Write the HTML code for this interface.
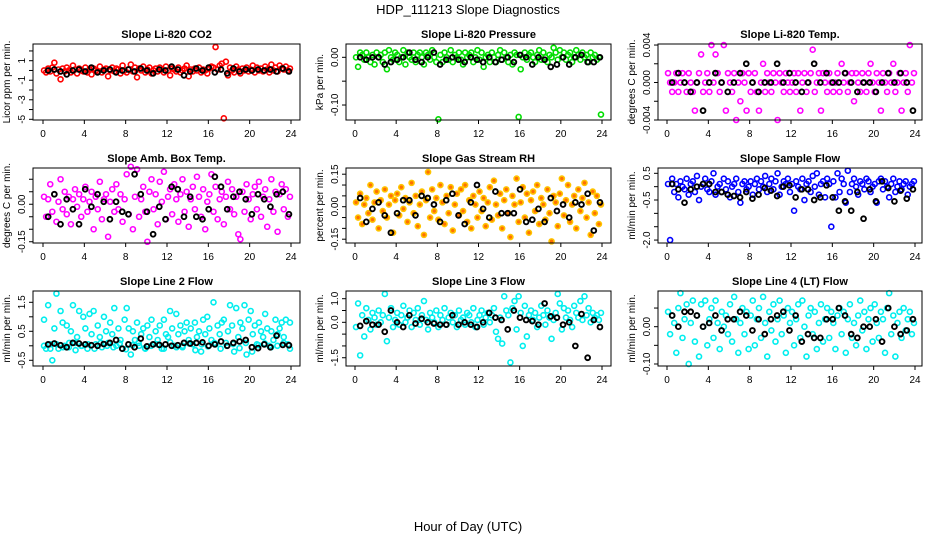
<!DOCTYPE html>
<html><head><meta charset="utf-8">
<style>
html,body{margin:0;padding:0;background:#fff;}
svg{display:block;font-family:"Liberation Sans",sans-serif;}
</style></head>
<body>
<svg id="chart" width="936" height="540" viewBox="0 0 936 540" xmlns="http://www.w3.org/2000/svg">
<rect x="0" y="0" width="936" height="540" fill="#fff"/>
<text x="468" y="14" font-size="13" text-anchor="middle">HDP_111213  Slope Diagnostics</text>
<text x="468" y="531" font-size="13" text-anchor="middle">Hour of Day (UTC)</text>
<g id="panels"></g>
</svg>
<script>
const co2Vals=[0,-0.2,0.2,-0.1,0.3,0.8,-0.3,0.1,-0.9,0.2,-0.1,0.3,0,-0.2,0.5,0.1,-0.3,0.2,0,-0.1,0.3,-0.2,0.1,-0.4,0.2,0,-0.1,0.4,-0.2,0.1,0.2,-0.6,0,0.3,-0.1,0.2,0.1,-0.3,0.5,0,-0.2,0.1,0.6,-0.1,0.3,-0.7,0.2,0,0.4,-0.2,0.1,0.3,-0.3,0,0.2,-0.1,0.3,0.1,-0.2,0.4,0,-0.5,0.2,0.1,-0.1,0.3,-0.2,0,0.2,0.5,-0.6,0.1,-0.1,0.2,0,0.3,-0.2,0.1,0,-0.3,0.2,0.4,0.3,2.4,0.1,0.5,0.7,-4.9,0.9,-0.5,0.3,0,-0.2,0.4,0.1,-0.3,0.2,0,0.3,-0.1,0.1,0.5,-0.2,0.3,0,0.2,-0.1,0.4,0.1,-0.2,0.6,0,0.3,-0.1,0.5,0.2,0.1,0.4,0,0.2];
const co2Black=[0,0.1,-0.1,-0.4,0,0.1,-0.1,0.3,-0.2,0,0.1,-0.2,0,0.1,-0.1,0.2,0,-0.3,0.1,0,0.4,0.1,-0.5,-0.1,0.2,0,0.3,-0.2,0.1,-0.3,0.2,-0.1,0.1,0,0.1,0,0.1,-0.1,0.2,-0.1];
const presVals=[0,-.02,.01,.005,-.005,.01,0,-.01,.005,-.015,.01,0,.005,-.01,.01,-.025,.015,0,-.005,.01,.005,-.01,0,.015,-.015,.01,0,-.005,.01,-.01,.005,.01,0,-.015,.01,.005,-.005,.015,0,-.01,-.13,.005,-.01,.01,0,-.005,.015,-.01,.005,0,.01,-.005,-.015,.01,0,.005,.01,-.01,0,.015,-.005,.01,-.02,0,.005,-.01,.01,0,-.01,.005,.015,-.005,.01,0,-.01,.005,-.015,.01,.005,-.125,-.025,0,.01,-.005,.005,.01,0,-.01,.005,.015,-.005,.01,0,-.01,.005,0,.02,.01,-.005,.015,0,.01,-.005,.005,.01,-.01,0,.015,.005,-.005,.01,0,.005,-.01,.01,0,.005,-.005,0,-.12];
const presBlack=[0,-.005,0,0,-.015,-.01,-.005,0,.01,-.005,-.01,0,.01,-.015,-.005,0,-.005,-.01,0,-.005,-.01,0,-.01,-.005,0,-.01,.005,0,-.015,0,-.005,-.02,-.015,0,-.015,0,.005,-.01,-.01,0];
const tempVals=[.001,0,-.001,0,.001,-.001,0,.001,0,-.001,.001,0,-.001,-.003,0,.001,.003,-.001,0,.001,-.001,.004,0,.003,.001,-.001,0,.004,-.003,.001,0,-.001,.001,-.004,0,-.002,.001,0,-.003,.001,-.001,0,.001,-.001,-.003,0,.002,-.001,.001,0,-.001,.001,0,-.004,.001,0,-.001,.001,0,-.001,0,.001,-.001,.001,-.003,0,.001,-.001,0,.001,.0035,-.001,0,.001,-.003,.001,0,-.001,.001,0,-.001,0,.001,-.001,.002,0,.001,-.001,0,.001,-.002,.001,0,-.001,.001,0,-.001,.001,.002,0,-.001,.001,0,-.003,.001,0,-.001,.001,0,.002,-.001,0,.001,-.003,0,.001,-.001,.004,0,.001];
const tempBlack=[0,.001,0,-.001,0,-.003,0,.001,0,-.001,0,.001,.002,0,-.001,0,0,.002,0,.001,0,-.001,0,.002,0,.001,0,0,.001,0,-.001,0,0,-.001,0,.001,0,.001,0,-.003];
const ambVals=[.03,-.05,.02,.08,-.03,.04,-.07,.01,.1,-.02,.05,-.04,.03,-.08,.02,.06,-.01,.04,-.05,.02,.07,-.03,.01,.05,-.1,.03,-.02,.09,-.06,.02,.04,-.13,.01,.06,-.03,.08,-.02,.04,-.07,.02,.12,-.04,.15,-.1,.03,.14,-.05,.02,.07,-.03,-.15,.05,.1,-.02,.04,-.08,.09,.01,.13,-.06,.03,.06,-.04,.08,.02,-.07,.04,.1,-.03,.05,-.09,.02,.07,-.02,.11,.03,-.05,.06,-.1,.01,.04,.12,-.03,.07,-.06,.02,.05,-.08,.03,.09,-.02,.06,-.04,.03,-.12,-.14,.05,-.03,.08,.02,-.06,.04,.07,-.02,.09,-.05,.03,.06,-.09,.02,.1,-.03,.05,-.11,.04,.08,-.02,.06,-.05,.03];
const ambBlack=[-.05,.04,-.08,.02,-.02,-.08,.06,-.01,.04,.01,-.06,.01,-.03,-.04,.12,.04,-.03,-.12,-.01,-.06,.07,.06,-.05,.03,-.05,-.06,-.02,.11,.07,-.02,.03,.05,.02,-.04,.04,.02,-.01,.04,.05,-.04];
const rhVals=[.02,-.05,.06,-.08,.01,.04,-.03,.1,-.06,.02,.07,-.1,.03,-.02,.08,-.05,.01,.05,-.12,.03,.06,-.04,.09,-.01,.04,-.07,.02,.11,-.03,.05,-.09,.01,.07,-.13,.03,.16,-.05,.08,-.02,.04,-.06,.1,.02,-.08,.05,-.03,.09,-.11,.01,.06,-.04,.08,-.02,.1,-.07,.03,-.1,.05,.01,-.05,.07,-.02,.04,-.09,.02,.09,-.06,.12,.01,-.04,.06,-.1,.03,.08,-.03,-.14,.05,.01,.13,-.07,.02,.09,-.05,.06,-.12,.03,.07,-.02,.1,-.08,.04,.01,-.06,.08,-.03,-.16,.05,.02,-.09,.06,.13,-.04,.03,.1,-.07,.01,.05,-.1,.08,-.02,.04,.11,-.05,.02,-.13,.07,-.03,.05,-.08,.01];
const rhBlack=[.04,-.07,-.01,.02,-.04,-.12,-.03,.03,.03,-.04,.05,.04,.01,-.07,.03,.06,-.04,-.08,.02,.1,-.01,-.05,.07,-.03,-.03,-.03,.08,-.07,-.06,-.01,-.07,.04,-.02,.01,-.05,.02,.01,.06,-.11,.02];
const flowVals=[.1,-2.0,.3,-.2,.1,-.4,.2,0,-.1,.3,-.3,.1,.2,-.2,.4,-.5,0,.1,.3,-.1,-.2,.2,.5,-.3,0,.1,-.2,.3,-.1,.2,-.4,0,.1,.3,-.2,-.6,.1,.2,-.1,0,.2,-.3,.1,.3,-.1,.2,0,.4,-.2,.1,.3,-.1,.2,.5,-.3,0,.2,.1,.3,-.2,.1,-.9,.2,0,-.1,.3,-.5,.1,.2,-.2,.4,0,.5,-.3,.1,.2,-.4,.3,.1,-1.5,.2,-.4,.5,-.2,.3,.1,-.6,.6,-.2,.1,.3,0,-.3,.2,.1,-.1,.3,.2,-.2,0,.1,-.6,.2,.3,-.1,.2,0,-.4,.1,.3,-.2,0,.2,-.1,.1,.2,-.3,0,.1,.2];
const flowBlack=[.1,-.1,-.6,-.1,0,.1,.1,-.2,-.2,-.3,-.35,-.4,-.2,-.45,-.3,-.05,-.15,-.35,0,.05,-.4,-.1,-.1,-.5,-.4,.05,-.4,-.9,-.55,-.9,-.2,-1.2,-.1,-.55,.2,-.05,-.55,-.15,-.45,-.1];
const l2Vals=[0.9,-0.1,1.4,0.05,-0.5,0.6,1.8,-0.1,1.2,0.8,0,0.7,-0.05,0.5,1.4,0.1,0.3,1.2,0,1.0,0.6,-0.1,1.1,0.4,1.2,0.05,0.7,0.3,-0.05,1.0,0.5,0.1,0.8,0.4,1.3,0,0.6,0.2,-0.1,0.9,1.3,0.6,-0.3,0.5,0.2,0.8,0,0.4,0.6,-0.1,0.7,0.3,0.9,0.05,0.5,0.2,0.7,-0.1,0.9,0.4,0.3,1.2,0.6,0,1.1,0.4,0.7,-0.05,0.5,0.8,0.2,0.6,0.05,0.8,0.3,0.5,-0.2,0.9,0.4,1.0,0.6,0.2,1.5,0.05,0.7,0.4,0.8,0.9,0.1,0.5,1.4,0.7,-0.2,1.3,0.3,0.8,0.6,1.4,-0.3,0.9,1.2,0.4,0.7,0.05,0.8,0.5,0.3,1.1,0.6,0,0.5,0.2,0.9,0.4,0.6,0.8,0.3,0.9,0.05,0.8];
const l2Band=[0,-0.1,0.05,-0.05,0.1,-0.15,0,0.05,-0.1,0.1,0,-0.05,0.08,-0.12,0.02,0.1,-0.08,0,0.05,-0.1,0.12,-0.05,0,0.08,-0.15,0.05,-0.02,0.1,-0.1,0,0.06,-0.08,0.1,-0.2,0.02,0.08,-0.05,0,0.1,-0.1];
const l2Black=[0.05,0.08,0.02,-0.05,0.1,0.08,0.05,0.02,0,0.06,0.1,0.2,-0.1,0.05,-0.05,0.25,-0.02,0.05,0.03,0.05,0,0.02,0.1,0.08,0.1,0.12,0,0.05,0.15,0,0.1,0.15,0.2,-0.05,-0.08,0.05,-0.05,0.35,0.03,0.02];
const l3Vals=[-0.2,0.8,-1.4,0.3,-0.6,0.6,0.1,-0.3,0.4,0.2,-0.1,0.5,0,0.3,1.2,-0.8,0.2,0.6,-0.2,0.1,0.4,-0.1,0.3,0.7,0,0.2,0.5,-0.2,0.4,0.1,0.6,-0.1,0.3,0.9,0.1,-0.3,0.4,0.2,0,0.5,-0.2,0.3,0.1,0.6,-0.1,0.2,0.4,0,0.3,-0.2,0.5,0.1,0.2,-0.1,0.4,0.3,0,0.6,-0.2,0.1,0.3,0.5,-0.1,0.2,0.4,0,0.3,0.6,-0.4,-0.7,0.2,-0.9,1.1,0.5,0.3,-1.7,0.6,0.9,-0.3,1.1,0.4,-1.0,0.7,-0.6,0.3,0.5,0.1,0.4,-0.2,0.2,0.7,0.3,-0.1,0.5,0.2,-0.7,0.1,0.4,1.2,0.8,-0.3,0.6,0.2,0.5,0.1,-0.2,0.7,0.4,0.2,0.9,0.1,1.1,0.3,0.6,0,0.4,0.2,0.3,0.1,0.4];
const l3Black=[-0.15,0.05,-0.1,-0.1,-0.4,0.5,0,-0.2,0.3,-0.05,0.15,0,-0.05,-0.1,-0.1,0.3,-0.1,0,-0.1,-0.2,0,0.4,0.2,0.1,-0.3,0.5,0.2,0.1,0.05,-0.1,0.8,0.25,0.2,-0.1,0,-1.0,0.35,-1.5,0.1,-0.2];
const l4Vals=[0.04,-0.02,0.03,0.01,-0.07,0.05,0.09,-0.03,0.02,0.06,-0.1,0.01,0.07,-0.04,0.03,-0.08,0.06,0,0.07,-0.05,0.02,0.05,-0.03,0.07,0.01,-0.06,0.04,0,0.03,-0.02,0.06,-0.04,0.08,0.02,-0.07,0.01,0.05,-0.02,0.04,-0.06,0.03,0.07,-0.05,0.02,0.05,-0.03,0.08,0.01,-0.08,0.04,-0.01,0.06,-0.04,0.02,0.07,-0.02,0.03,-0.07,0.05,0.01,0.04,-0.05,0.02,0.06,-0.03,0.07,0,-0.08,0.03,0.05,-0.02,0.04,-0.06,0.01,0.06,-0.04,0.02,0.05,-0.03,0.04,0.01,-0.06,0.03,0.05,-0.02,0.04,-0.07,0.02,0.06,-0.03,0.01,-0.05,0.03,0.07,-0.01,0.04,-0.06,0.02,0.05,-0.04,0.06,0.01,-0.03,0.04,0.02,-0.07,0.05,0.09,-0.02,0.03,-0.08,0.01,0.04,-0.03,0.05,-0.01,0.02,0.04,-0.02,0.01];
const l4Black=[0.03,0.00,0.04,0.04,0.03,0.00,0.01,0.03,-0.01,0.02,0.02,0.04,0.03,-0.01,0.02,-0.02,0.02,0.03,0.04,-0.01,0.03,-0.04,-0.02,-0.03,-0.03,0.02,0.02,0.05,0.03,-0.02,-0.03,0,0.0,0.02,-0.04,0.05,0,-0.02,-0.01,0.02];
const xTicks=[0,4,8,12,16,20,24];

const panels=[
 {name:"co2",title:"Slope Li-820 CO2",ylab:"Licor ppm per min.",col:0,row:0,ymin:-5.07,ymax:2.71,ticks:[-5,-4,-3,-2,-1,0,1,2],labels:[[1,"1"],[-1,"-1"],[-3,"-3"],[-5,"-5"]],vals:co2Vals,black:co2Black,stroke:"#ff0000",fill:"none"},
 {name:"pressure",title:"Slope Li-820 Pressure",ylab:"kPa per min.",col:1,row:0,ymin:-0.1314,ymax:0.0279,ticks:[0,-0.05,-0.1],labels:[[0,"0.00"],[-0.1,"-0.10"]],vals:presVals,black:presBlack,stroke:"#00dd00",fill:"none"},
 {name:"temp",title:"Slope Li-820 Temp.",ylab:"degrees C per min.",col:2,row:0,ymin:-0.004,ymax:0.00411,ticks:[0.004,0.002,0,-0.002,-0.004],labels:[[0.004,"0.004"],[0,"0.000"],[-0.004,"-0.004"]],vals:tempVals,black:tempBlack,stroke:"#ff00ff",fill:"none"},
 {name:"amb-box-temp",title:"Slope Amb. Box Temp.",ylab:"degrees C per min.",col:0,row:1,ymin:-0.155,ymax:0.145,ticks:[0.1,0.05,0,-0.05,-0.1,-0.15],labels:[[0,"0.00"],[-0.15,"-0.15"]],vals:ambVals,black:ambBlack,stroke:"#ff00ff",fill:"none"},
 {name:"gas-stream-rh",title:"Slope Gas Stream RH",ylab:"percent per min.",col:1,row:1,ymin:-0.1675,ymax:0.1786,ticks:[0.15,0.1,0.05,0,-0.05,-0.1,-0.15],labels:[[0.15,"0.15"],[0,"0.00"],[-0.15,"-0.15"]],vals:rhVals,black:rhBlack,stroke:"#ffc400",fill:"#ff7000"},
 {name:"sample-flow",title:"Slope Sample Flow",ylab:"ml/min per min.",col:2,row:1,ymin:-2.11,ymax:0.699,ticks:[0.5,0,-0.5,-1,-1.5,-2],labels:[[0.5,"0.5"],[-0.5,"-0.5"],[-2,"-2.0"]],vals:flowVals,black:flowBlack,stroke:"#0000ff",fill:"none"},
 {name:"line2-flow",title:"Slope Line 2 Flow",ylab:"ml/min per min.",col:0,row:2,ymin:-0.697,ymax:1.89,ticks:[1.5,1,0.5,0,-0.5],labels:[[1.5,"1.5"],[0.5,"0.5"],[-0.5,"-0.5"]],vals:l2Vals,extra:l2Band,black:l2Black,stroke:"#00eeee",fill:"none"},
 {name:"line3-flow",title:"Slope Line 3 Flow",ylab:"ml/min per min.",col:1,row:2,ymin:-1.85,ymax:1.326,ticks:[1,0.5,0,-0.5,-1,-1.5],labels:[[1,"1.0"],[0,"0.0"],[-1.5,"-1.5"]],vals:l3Vals,black:l3Black,stroke:"#00eeee",fill:"none"},
 {name:"line4-flow",title:"Slope Line 4 (LT) Flow",ylab:"ml/min per min.",col:2,row:2,ymin:-0.1054,ymax:0.0957,ticks:[0.05,0,-0.05,-0.1],labels:[[0,"0.00"],[-0.1,"-0.10"]],vals:l4Vals,black:l4Black,stroke:"#00eeee",fill:"none"}
];
const colBox=[[33,300],[346,611],[658,922]];
const colX0=[43,355,667];
const colX24=[291,602,915];
const rowBox=[[44,120],[168,243],[291,366]];
const NS="http://www.w3.org/2000/svg";
const root=document.getElementById("panels");
function mk(tag,attrs,parent){const e=document.createElementNS(NS,tag);for(const k in attrs)e.setAttribute(k,attrs[k]);parent.appendChild(e);return e;}

panels.forEach(p=>{
  const [bx0,bx1]=colBox[p.col],[by0,by1]=rowBox[p.row];
  const xs=h=>colX0[p.col]+(colX24[p.col]-colX0[p.col])*h/24;
  const ys=v=>by1-(v-p.ymin)/(p.ymax-p.ymin)*(by1-by0);
  const g=mk("g",{},root);
  
  
  const t=mk("text",{x:(bx0+bx1)/2,y:by0-6,"font-size":"11","font-weight":"bold","text-anchor":"middle"},g);
  t.textContent=p.title;
  
  
  const yl=mk("text",{transform:`translate(${bx0-23},${(by0+by1)/2}) rotate(-90)`,"font-size":"10","text-anchor":"middle"},g);
  yl.textContent=p.ylab;
  
  
  const pts=mk("g",{},g);
  
  
  const drawSet=(arr,stroke,fill,sw)=>{
    const n=arr.length;
    arr.forEach((v,i)=>{
      const c=mk("circle",{cx:xs(0.1+23.8*i/(n-1)),cy:ys(v),r:2.5,fill:fill,stroke:stroke,"stroke-width":sw},pts);
      
      
    });
  };
  drawSet(p.vals,p.stroke,p.fill,1.6);
  if(p.extra) drawSet(p.extra,p.stroke,p.fill,1.6);
  const nb=p.black.length;
  p.black.forEach((v,i)=>{
    const c=mk("circle",{cx:xs(0.5+23.3*i/(nb-1)),cy:ys(v),r:2.4,fill:"none",stroke:"#000","stroke-width":1.9},pts);
    
    
  });
  const box=mk("rect",{x:bx0,y:by0,width:bx1-bx0,height:by1-by0,fill:"none",stroke:"#000","stroke-width":1},g);
  
  
  const xa=mk("g",{},g);
  
  
  mk("line",{x1:xs(0),x2:xs(24),y1:by1,y2:by1,stroke:"#000"},xa);
  xTicks.forEach(h=>{
    mk("line",{x1:xs(h),x2:xs(h),y1:by1,y2:by1+4,stroke:"#000"},xa);
    const tl=mk("text",{x:xs(h),y:by1+17,"font-size":"10","text-anchor":"middle"},xa);
    tl.textContent=h;
    
    
  });
  const ya=mk("g",{},g);
  
  
  p.ticks.forEach(v=>{
    mk("line",{x1:bx0-4,x2:bx0,y1:ys(v),y2:ys(v),stroke:"#000"},ya);
  });
  p.labels.forEach(([v,s])=>{
    const tl=mk("text",{transform:`translate(${bx0-8},${ys(v)}) rotate(-90)`,"font-size":"10","text-anchor":"middle"},ya);
    tl.textContent=s;
    
    
  });
});
</script>
</body></html>
